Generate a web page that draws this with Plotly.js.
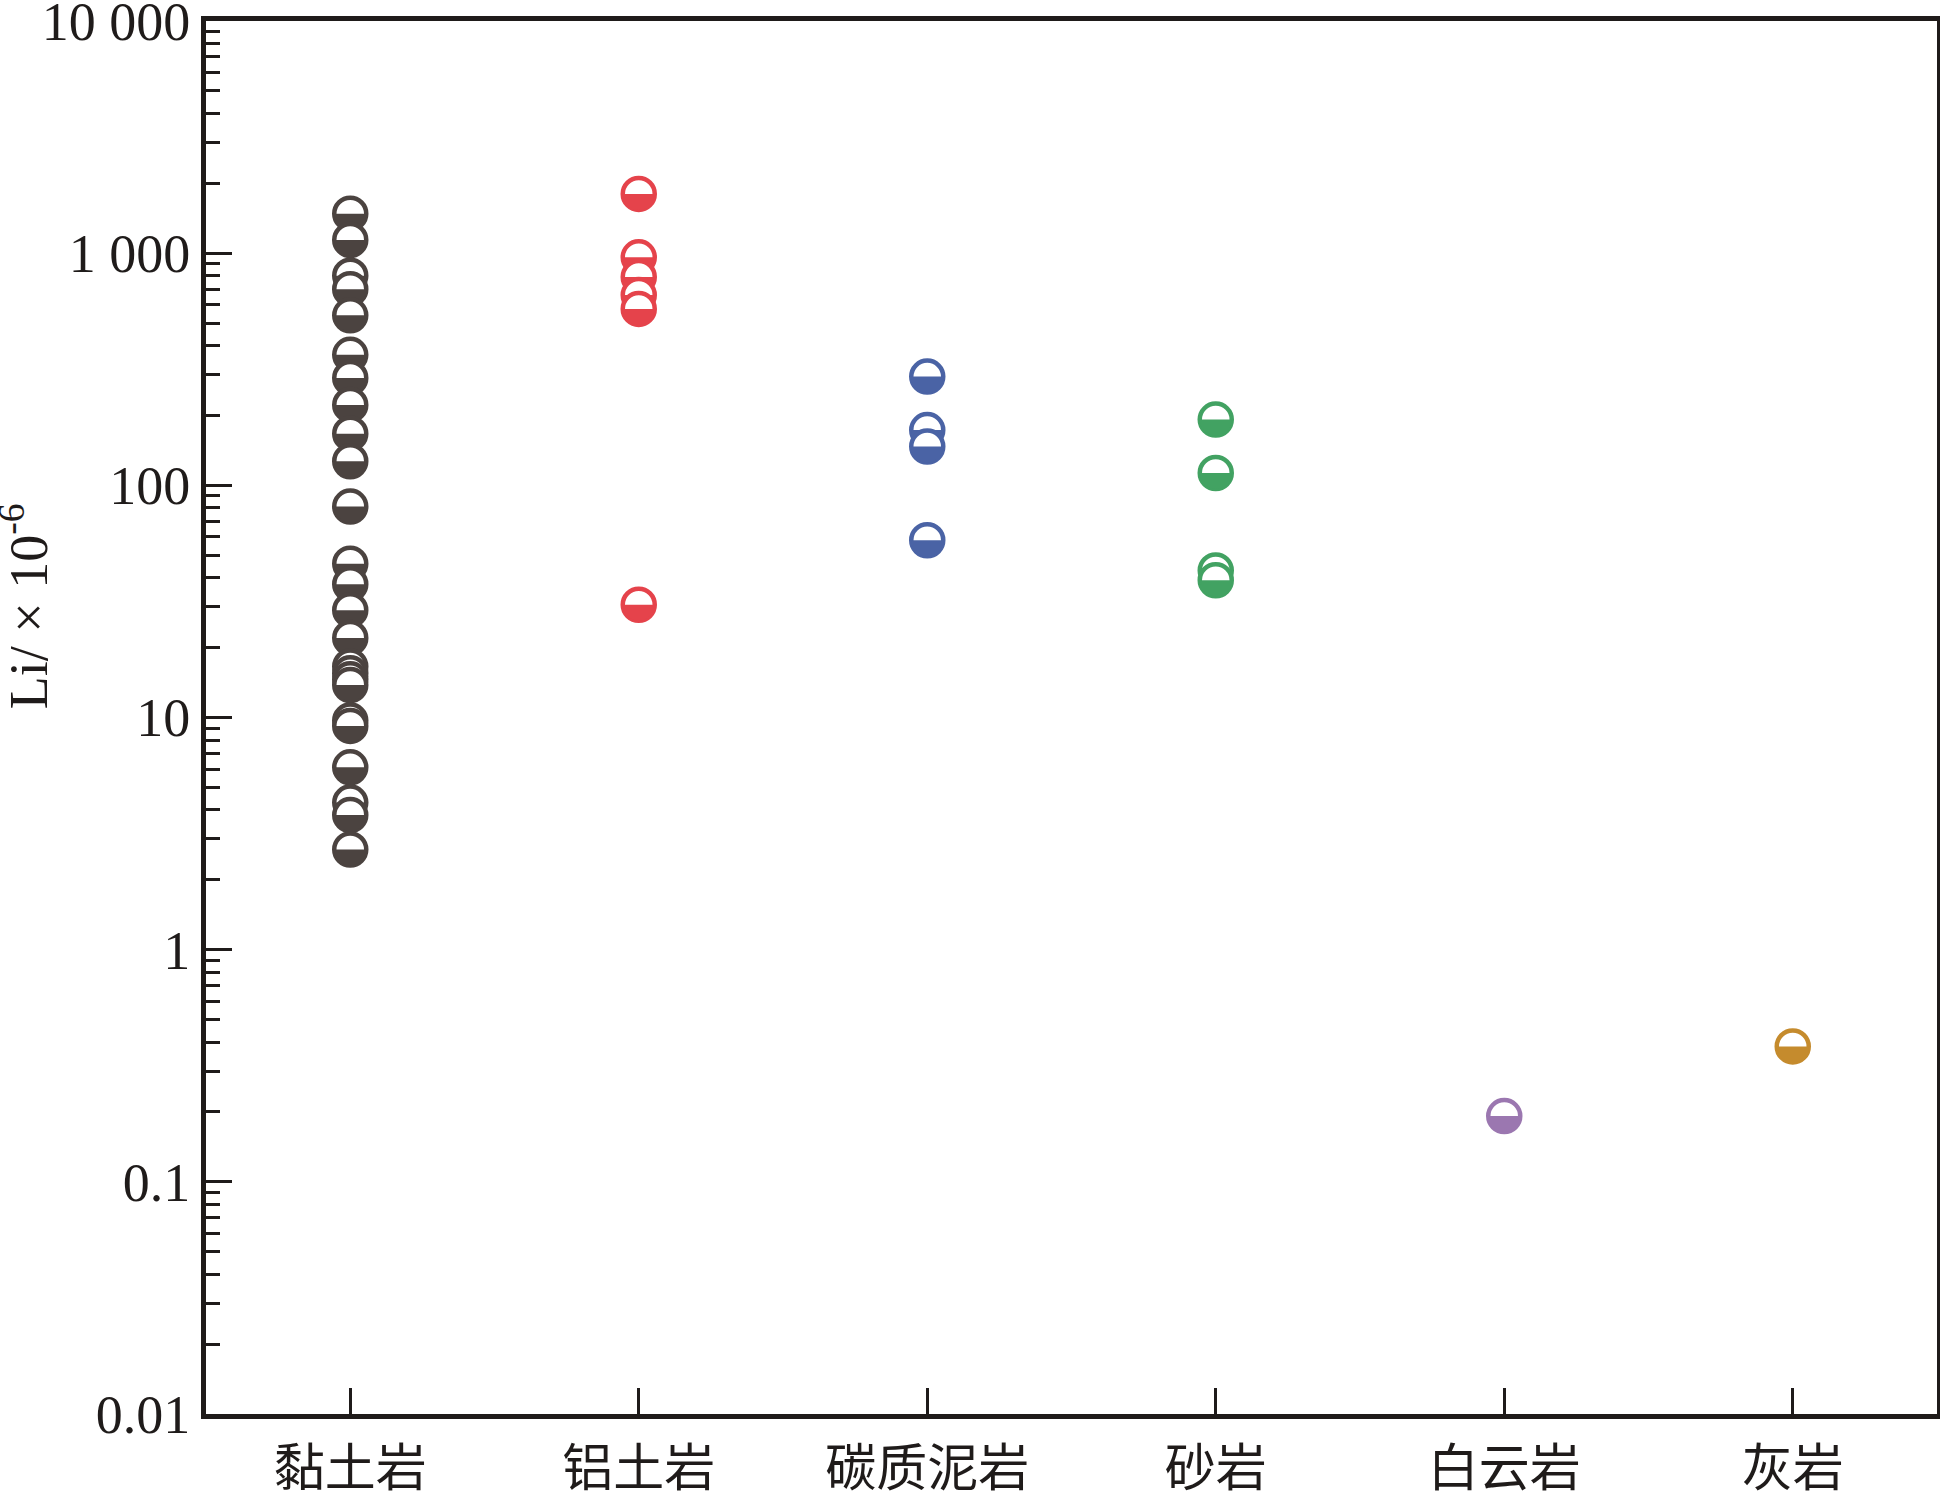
<!DOCTYPE html>
<html>
<head>
<meta charset="utf-8">
<script src="https://cdn.plot.ly/plotly-3.0.1.min.js"></script>
<style>
  html, body { margin: 0; padding: 0; background: #ffffff; }
  #chart { width: 1940px; height: 1499px; }
</style>
</head>
<body>
<div id="chart"></div>
<script>
// ---------- data (Li, ×10^-6) ----------
const categories = ['黏土岩', '铝土岩', '碳质泥岩', '砂岩', '白云岩', '灰岩'];

const claystoneLi = [1480, 1140, 800, 700, 540, 365, 290, 222, 167, 127, 81, 46, 37.5, 29, 22, 16.6, 15.5, 14.6, 13.8, 9.7, 9.2, 6.1, 4.3, 3.8, 2.7];
const bauxiteLi   = [1800, 960, 790, 660, 575, 30.6];
const carbMudLi   = [294, 173, 147, 58];
const sandstoneLi = [192, 113, 43, 39];
const dolomiteLi  = [0.192];
const limestoneLi = [0.383];

const seriesValues = [claystoneLi, bauxiteLi, carbMudLi, sandstoneLi, dolomiteLi, limestoneLi];
const seriesColors = ['#4b4340', '#e5434b', '#4a63a5', '#42a262', '#9b77b0', '#c58b2d'];

const yTickVals = [0.01, 0.1, 1, 10, 100, 1000, 10000];
const yTickText = ['0.01', '0.1', '1', '10', '100', '1 000', '10 000'];

// ---------- styling ----------
const MARKER_SIZE = 32;
const MARKER_LINE = 4.5;
const INK = '#1f1b1a';

// minor ticks 2..9 within each decade
const minorVals = [];
for (let e = -2; e < 4; e++) {
  for (let m = 2; m <= 9; m++) minorVals.push(m * Math.pow(10, e));
}

const traces = seriesValues.map((vals, i) => ({
  type: 'scatter',
  mode: 'markers',
  x: vals.map(() => categories[i]),
  y: vals,
  name: categories[i],
  cliponaxis: false,
  marker: {
    symbol: 'circle',
    size: MARKER_SIZE,
    color: '#ffffff',
    line: { color: seriesColors[i], width: MARKER_LINE }
  },
  hoverinfo: 'x+y'
}));

const layout = {
  width: 1940,
  height: 1499,
  margin: { l: 206, r: 3, t: 21, b: 85 },
  paper_bgcolor: '#ffffff',
  plot_bgcolor: '#ffffff',
  showlegend: false,
  xaxis: {
    type: 'category',
    categoryorder: 'array',
    categoryarray: categories,
    range: [-0.5, 5.5],
    showgrid: false,
    zeroline: false,
    showline: true,
    linecolor: INK,
    linewidth: 5,
    mirror: true,
    ticks: 'inside',
    ticklen: 26,
    tickwidth: 3,
    tickcolor: INK,
    ticklabelstandoff: 6,
    ticklabeloverflow: 'allow',
    tickfont: { family: '"Noto Sans CJK SC", sans-serif', size: 51, color: INK }
  },
  yaxis: {
    type: 'log',
    range: [-2, 4],
    showgrid: false,
    zeroline: false,
    showline: true,
    linecolor: INK,
    linewidth: 5,
    mirror: true,
    ticks: 'inside',
    ticklen: 26,
    tickwidth: 3,
    tickcolor: INK,
    tickmode: 'array',
    tickvals: yTickVals,
    ticktext: yTickText,
    ticklabelstandoff: 0,
    ticklabeloverflow: 'allow',
    tickfont: { family: '"Liberation Serif", "Times New Roman", serif', size: 54, color: INK },
    minor: {
      tickmode: 'array',
      tickvals: minorVals,
      ticks: 'inside',
      ticklen: 14,
      tickwidth: 3,
      tickcolor: INK,
      showgrid: false
    }
  },
  annotations: [{
    xref: 'paper', yref: 'paper',
    x: -0.105, y: 0.58,
    xanchor: 'center', yanchor: 'middle',
    textangle: -90,
    showarrow: false,
    text: 'Li/ × 10<sup>-6</sup>',
    font: { family: '"Liberation Serif", "Times New Roman", serif', size: 54, color: INK }
  }]
};

Plotly.newPlot('chart', traces, layout, { displayModeBar: false, staticPlot: true }).then(gd => {
  // fill the lower half of each circle marker with the series colour
  const ns = 'http://www.w3.org/2000/svg';
  const r = MARKER_SIZE / 2;
  gd.querySelectorAll('.scatterlayer .trace').forEach((tr, i) => {
    const color = seriesColors[i];
    tr.querySelectorAll('path.point').forEach(p => {
      const half = document.createElementNS(ns, 'path');
      half.setAttribute('d', 'M' + (-r) + ',0A' + r + ',' + r + ' 0 0,0 ' + r + ',0Z');
      half.setAttribute('transform', p.getAttribute('transform'));
      half.setAttribute('style', 'fill:' + color + ';stroke:none;');
      p.parentNode.insertBefore(half, p.nextSibling);
    });
  });
});
</script>
</body>
</html>
